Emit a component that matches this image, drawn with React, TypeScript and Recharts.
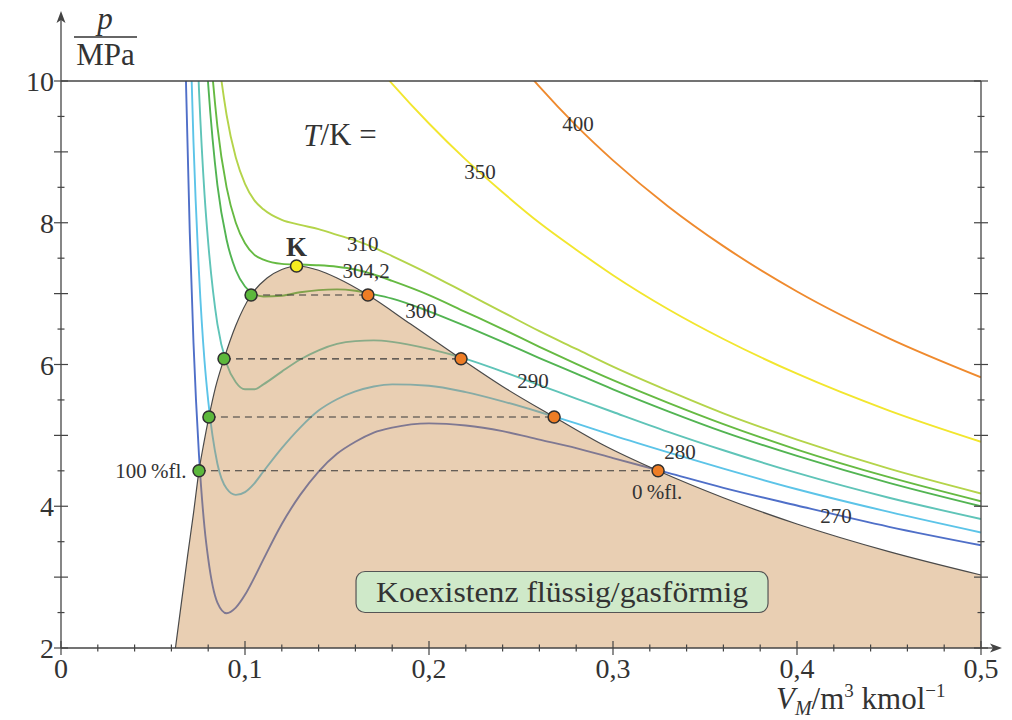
import React from 'react';
import { ComposedChart, Line, Area, Scatter, XAxis, YAxis, ReferenceDot } from 'recharts';

const FONT = "'Liberation Serif', 'DejaVu Serif', serif";
const INK = '#333333';
const AXIS = '#444444';

// molar volume grid, m3/kmol
const VOLUMES = [
  0.062, 0.064, 0.066, 0.068, 0.07, 0.072, 0.075, 0.078, 0.08, 0.085, 0.09, 0.095, 0.1, 0.105, 0.11,
  0.12, 0.13, 0.14, 0.15, 0.16, 0.17, 0.18, 0.2, 0.22, 0.24, 0.26, 0.28, 0.3, 0.33, 0.36, 0.4, 0.45, 0.5,
];

// pressures in MPa on the grid above (null = off the chart)
const P_270 = [null, null, 12.65, 9.9, 7.85, 6.31, 4.72, 3.7, 3.26, 2.64, 2.49, 2.57, 2.75, 2.99, 3.25,
  3.75, 4.16, 4.49, 4.74, 4.91, 5.04, 5.11, 5.17, 5.14, 5.06, 4.94, 4.82, 4.68, 4.47, 4.26, 4.01, 3.71, 3.45];
const P_280 = [null, null, null, 13.19, 10.89, 9.14, 7.29, 6.05, 5.49, 4.6, 4.25, 4.16, 4.2, 4.32, 4.49,
  4.82, 5.11, 5.35, 5.51, 5.62, 5.69, 5.72, 5.7, 5.61, 5.48, 5.33, 5.17, 5.0, 4.76, 4.53, 4.24, 3.92, 3.63];
const P_290 = [null, null, null, null, 13.93, 11.97, 9.87, 8.4, 7.72, 6.57, 6.01, 5.75, 5.65, 5.65, 5.72,
  5.9, 6.07, 6.2, 6.29, 6.33, 6.34, 6.32, 6.22, 6.08, 5.9, 5.71, 5.52, 5.33, 5.05, 4.79, 4.47, 4.12, 3.82];
const P_300 = [null, null, null, null, null, 14.81, 12.44, 10.76, 9.95, 8.53, 7.76, 7.33, 7.1, 6.99, 6.96,
  6.97, 7.02, 7.05, 7.06, 7.04, 6.99, 6.93, 6.75, 6.54, 6.32, 6.09, 5.87, 5.65, 5.34, 5.05, 4.71, 4.33, 4.0];
const P_304 = [null, null, null, null, null, null, 13.52, 11.74, 10.88, 9.36, 8.5, 8.0, 7.71, 7.55, 7.48,
  7.42, 7.41, 7.4, 7.38, 7.34, 7.27, 7.18, 6.98, 6.74, 6.5, 6.25, 6.01, 5.78, 5.46, 5.16, 4.8, 4.41, 4.07];
const P_310 = [null, null, null, null, null, null, null, 13.11, 12.17, 10.5, 9.52, 8.92, 8.55, 8.32, 8.19,
  8.04, 7.97, 7.91, 7.83, 7.75, 7.65, 7.53, 7.28, 7.01, 6.74, 6.47, 6.22, 5.97, 5.63, 5.31, 4.94, 4.53, 4.18];
const P_350 = [null, null, null, null, null, null, null, null, null, null, null, null, null, null, null,
  null, null, null, null, null, 10.26, 9.96, 9.4, 8.89, 8.43, 8.0, 7.62, 7.26, 6.78, 6.36, 5.87, 5.35, 4.91];
const P_400 = [null, null, null, null, null, null, null, null, null, null, null, null, null, null, null,
  null, null, null, null, null, null, null, null, null, 10.53, 9.92, 9.37, 8.88, 8.23, 7.67, 7.03, 6.37, 5.82];

const ISOTHERMS = [
  { name: '270', color: '#4f6fc8', p: P_270 },
  { name: '280', color: '#5cc4e8', p: P_280 },
  { name: '290', color: '#5fc4b8', p: P_290 },
  { name: '300', color: '#52b452', p: P_300 },
  { name: '304,2', color: '#66ba42', p: P_304 },
  { name: '310', color: '#b4d44a', p: P_310 },
  { name: '350', color: '#f2e62e', p: P_350 },
  { name: '400', color: '#ef8a2e', p: P_400 },
];

// coexistence (binodal) boundary
const BINODAL_V = [0.0622, 0.0655, 0.0688, 0.072, 0.075, 0.0777, 0.0804, 0.084, 0.0886, 0.095, 0.1033,
  0.112, 0.12, 0.128, 0.14, 0.15, 0.1668, 0.19, 0.2174, 0.24, 0.268, 0.295, 0.3245, 0.36, 0.4, 0.45, 0.5];
const BINODAL_P = [2.0, 2.65, 3.3, 3.9, 4.5, 4.9, 5.26, 5.68, 6.08, 6.55, 6.98,
  7.22, 7.34, 7.39, 7.33, 7.22, 6.98, 6.57, 6.08, 5.69, 5.26, 4.86, 4.5, 4.12, 3.75, 3.36, 3.03];

// tie lines (saturation pressure, liquid / vapour volume)
const TIE_P = [4.5, 5.26, 6.08, 6.98];
const TIE_LIQUID = [0.075, 0.0804, 0.0886, 0.1033];
const TIE_VAPOUR = [0.3245, 0.268, 0.2174, 0.1668];
const CRITICAL = { v: 0.128, p: 7.39 };

const CURVE_LABELS = [
  { text: '310', v: 0.164, p: 7.7 },
  { text: '304,2', v: 0.1658, p: 7.32 },
  { text: '300', v: 0.1957, p: 6.76 },
  { text: '290', v: 0.2565, p: 5.77 },
  { text: '280', v: 0.3364, p: 4.77 },
  { text: '270', v: 0.4212, p: 3.86 },
  { text: '350', v: 0.2277, p: 8.72 },
  { text: '400', v: 0.281, p: 9.39 },
  { text: '0\u2009%fl.', v: 0.324, p: 4.2 },
  { text: '100\u2009%fl.', v: 0.0489, p: 4.5 },
];

const X_TICKS = Array.from({ length: 26 }, (_, i) => (i * 2) / 100);
const Y_TICKS = Array.from({ length: 17 }, (_, i) => 2 + i * 0.5);

const isMajorX = (v: number) => Math.abs(v * 10 - Math.round(v * 10)) < 1e-6;
const fmtX = (v: number) => (v === 0 ? '0' : v.toFixed(1).replace('.', ','));

function BottomTick({ x, y, payload }: any) {
  const v = payload.value;
  const major = isMajorX(v);
  const h = major ? 7 : 3.5;
  return (
    <g>
      <line x1={x} x2={x} y1={y - h} y2={y + h} stroke={AXIS} strokeWidth={1.2} />
      {major && (
        <text x={x} y={y + 30} textAnchor="middle" fontSize={28} fontFamily={FONT} fill={INK}>
          {fmtX(v)}
        </text>
      )}
      {Math.abs(v - 0.5) < 1e-6 && (
        <g>
          <line x1={x} x2={x + 14} y1={y} y2={y} stroke={AXIS} strokeWidth={1.3} />
          <path d={`M${x + 21},${y} L${x + 9},${y - 4.5} L${x + 12},${y} L${x + 9},${y + 4.5} Z`} fill={AXIS} />
          <text x={x - 205} y={y + 61} fontSize={31} fontFamily={FONT} fill={INK}>
            <tspan fontStyle="italic">V</tspan>
            <tspan fontStyle="italic" fontSize={20} dy={6}>M</tspan>
            <tspan dy={-6}>/m</tspan>
            <tspan fontSize={19} dy={-12}>3</tspan>
            <tspan dy={12}> kmol</tspan>
            <tspan fontSize={19} dy={-12}>{'\u22121'}</tspan>
          </text>
        </g>
      )}
    </g>
  );
}

function LeftTick({ x, y, payload }: any) {
  const v = payload.value;
  const major = Number.isInteger(v);
  const h = major ? 7 : 3.5;
  return (
    <g>
      <line x1={x - h} x2={x + h} y1={y} y2={y} stroke={AXIS} strokeWidth={1.2} />
      {major && v % 2 === 0 && (
        <text x={x - 7} y={y + 10} textAnchor="end" fontSize={28} fontFamily={FONT} fill={INK}>
          {v}
        </text>
      )}
      {v === 10 && (
        <g>
          <line x1={x} x2={x} y1={y} y2={y - 62} stroke={AXIS} strokeWidth={1.3} />
          <path d={`M${x},${y - 70} L${x - 4.5},${y - 58} L${x},${y - 61} L${x + 4.5},${y - 58} Z`} fill={AXIS} />
          <text x={x + 44} y={y - 52} textAnchor="middle" fontSize={31} fontStyle="italic" fontFamily={FONT} fill={INK}>p</text>
          <line x1={x + 13} x2={x + 76} y1={y - 44} y2={y - 44} stroke={INK} strokeWidth={1.3} />
          <text x={x + 44.5} y={y - 16} textAnchor="middle" fontSize={31} fontFamily={FONT} fill={INK}>MPa</text>
        </g>
      )}
    </g>
  );
}

function TopTick({ x, y, payload }: any) {
  const h = isMajorX(payload.value) ? 7 : 3.5;
  return <line x1={x} x2={x} y1={y - h} y2={y + h} stroke={AXIS} strokeWidth={1.2} />;
}

function RightTick({ x, y, payload }: any) {
  const h = Number.isInteger(payload.value) ? 7 : 3.5;
  return <line x1={x - h} x2={x + h} y1={y} y2={y} stroke={AXIS} strokeWidth={1.2} />;
}

const textShape = (text: string, size = 21, weight = 'normal') => (props: any) => (
  <text x={props.cx} y={props.cy} textAnchor="middle" dominantBaseline="central"
    fontSize={size} fontWeight={weight} fontFamily={FONT} fill={INK}>
    {text}
  </text>
);

const dotShape = (fill: string) => (props: any) => (
  <circle cx={props.cx} cy={props.cy} r={6} fill={fill} stroke="#2f2f2f" strokeWidth={1.5} />
);

export default function App() {
  const binodal = BINODAL_V.map((v, i) => ({ v, p: BINODAL_P[i] }));
  const liquidDots = TIE_LIQUID.map((v, i) => ({ v, p: TIE_P[i] }));
  const vapourDots = TIE_VAPOUR.map((v, i) => ({ v, p: TIE_P[i] }));

  return (
    <div style={{ position: 'absolute', left: 0, top: 0, width: 1012, height: 720, background: '#fff' }}>
      <ComposedChart width={1012} height={720} margin={{ top: 80, right: 30, bottom: 71, left: 60 }}>
        <XAxis dataKey="v" type="number" domain={[0, 0.5]} allowDataOverflow ticks={X_TICKS} interval={0}
          height={1} tickSize={0} tickMargin={0} tickLine={false} tick={BottomTick}
          axisLine={{ stroke: AXIS, strokeWidth: 1.3 }} />
        <XAxis xAxisId="top" orientation="top" type="number" domain={[0, 0.5]} allowDataOverflow ticks={X_TICKS}
          interval={0} height={1} tickSize={0} tickMargin={0} tickLine={false} tick={TopTick}
          axisLine={{ stroke: AXIS, strokeWidth: 1.3 }} />
        <YAxis type="number" domain={[2, 10]} allowDataOverflow ticks={Y_TICKS} interval={0} width={1}
          tickSize={0} tickMargin={0} tickLine={false} tick={LeftTick}
          axisLine={{ stroke: AXIS, strokeWidth: 1.3 }} />
        <YAxis yAxisId="right" orientation="right" type="number" domain={[2, 10]} allowDataOverflow ticks={Y_TICKS}
          interval={0} width={1} tickSize={0} tickMargin={0} tickLine={false} tick={RightTick}
          axisLine={{ stroke: AXIS, strokeWidth: 1.3 }} />

        {ISOTHERMS.map((iso) => (
          <Line key={iso.name} data={VOLUMES.map((v, i) => ({ v, p: iso.p[i] })).filter((d) => d.p !== null)}
            dataKey="p" type="monotone" stroke={iso.color} strokeWidth={1.9} dot={false}
            isAnimationActive={false} zIndex={400} />
        ))}

        <Area data={binodal} dataKey="p" type="monotone" baseValue={2} fill="#c88741" fillOpacity={0.4}
          stroke="#4a4a4a" strokeWidth={1.2} isAnimationActive={false} zIndex={450} />

        {TIE_P.map((p, i) => (
          <Line key={`tie-${i}`} data={[{ v: TIE_LIQUID[i], p }, { v: TIE_VAPOUR[i], p }]} dataKey="p"
            type="linear" stroke="#3a3a3a" strokeWidth={1.1} strokeDasharray="7 5" dot={false}
            isAnimationActive={false} zIndex={460} />
        ))}

        <Scatter data={liquidDots} dataKey="p" shape={dotShape('#5cb83c')} isAnimationActive={false} zIndex={600} />
        <Scatter data={vapourDots} dataKey="p" shape={dotShape('#ee7d25')} isAnimationActive={false} zIndex={600} />
        <Scatter data={[CRITICAL]} dataKey="p" shape={dotShape('#f7ec1f')} isAnimationActive={false} zIndex={600} />

        {CURVE_LABELS.map((l) => (
          <ReferenceDot key={l.text} x={l.v} y={l.p} r={0} shape={textShape(l.text)} zIndex={700} />
        ))}
        <ReferenceDot x={0.128} y={7.66} r={0} shape={textShape('K', 27, 'bold')} zIndex={700} />
        <ReferenceDot x={0.1516} y={9.24} r={0} zIndex={700}
          shape={(props: any) => (
            <text x={props.cx} y={props.cy} textAnchor="middle" dominantBaseline="central"
              fontSize={31} fontFamily={FONT} fill={INK}>
              <tspan fontStyle="italic">T</tspan>/K =
            </text>
          )} />
        <ReferenceDot x={0.2723} y={2.79} r={0} zIndex={700}
          shape={(props: any) => (
            <g>
              <rect x={props.cx - 206} y={props.cy - 20.5} width={412} height={41} rx={9}
                fill="#cfe9c9" stroke="#555" strokeWidth={1.2} />
              <text x={props.cx} y={props.cy + 10} textAnchor="middle" fontSize={30} fontFamily={FONT}
                fill={INK} textLength={372} lengthAdjust="spacingAndGlyphs">
                Koexistenz flüssig/gasförmig
              </text>
            </g>
          )} />
      </ComposedChart>
    </div>
  );
}
